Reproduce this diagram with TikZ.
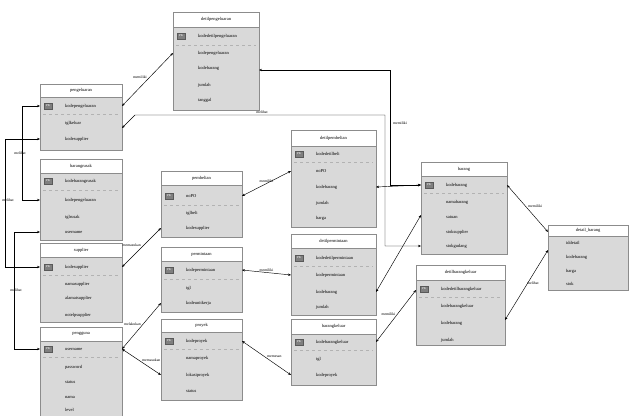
\documentclass[tikz,border=0pt]{standalone}
\usepackage{fontspec}
\setmainfont{Liberation Serif}
\usetikzlibrary{arrows.meta}
\definecolor{bodyc}{HTML}{D9D9D9}
\definecolor{edgec}{HTML}{8C8C8C}
\definecolor{pkc}{HTML}{7F7F7F}
\tikzset{
  bodybox/.style={draw=edgec, fill=bodyc, line width=0.5pt, inner sep=0pt, outer sep=0pt},
  headbox/.style={draw=edgec, fill=white, line width=0.5pt, inner sep=0pt, outer sep=0pt, font=\fontsize{4.5}{5}\selectfont},
  fieldtxt/.style={anchor=west, inner sep=0pt, font=\fontsize{4.5}{5}\selectfont},
  pkbadge/.style={draw=pkc!70!black, fill=pkc, text=white, minimum width=7.5pt, minimum height=6.5pt, inner sep=0pt, font=\fontsize{3}{3}\selectfont},
  sepline/.style={draw=gray!60, dashed, line width=0.4pt},
  rel/.style={draw=black, line width=0.45pt, {Stealth[length=3pt,width=2.4pt]}-{Stealth[length=3pt,width=2.4pt]}},
  lbl/.style={inner sep=0.5pt, font=\fontsize{3.8}{4}\selectfont}
}
% id, left, top, right, bottom, headerbottom, title
\newcommand\erbox[7]{%
  \pgfmathsetmacro\ebw{#4-#2}\pgfmathsetmacro\ebh{#5-#3}\pgfmathsetmacro\ebhh{#6-#3}%
  \node[bodybox, minimum width=\ebw pt, minimum height=\ebh pt] (#1) at ({(#2+#4)/2},{(#3+#5)/2}) {};
  \node[headbox, minimum width=\ebw pt, minimum height=\ebhh pt] (#1-h) at ({(#2+#4)/2},{(#3+#6)/2}) {#7};
}
% id, left, right, y, text, separator y  (primary key row)
\newcommand\pkrow[6]{%
  \node[pkbadge] (#1-pk) at ({#2+8},#4) {PK};
  \node[fieldtxt] (#1-f0) at ({#2+25},#4) {#5};
  \draw[sepline] ({#2+3},#6) -- ({#3-3},#6);
}
% id, left, y, text
\newcommand\fld[4]{\node[fieldtxt] (#1) at ({#2+25},#3) {#4};}
\begin{document}
\begin{tikzpicture}[x=1pt,y=-1pt]
\useasboundingbox (0,0) rectangle (636,415);
\fill[white] (0,0) rectangle (636,415);

% detilpengeluaran
\erbox{dpg}{173}{12}{259}{110}{27}{detilpengeluaran}
\pkrow{dpg}{173}{259}{36}{kodedetilpengeluaran}{45}
\fld{dpg-f1}{173}{53}{kodepengeluaran}
\fld{dpg-f2}{173}{68}{kodebarang}
\fld{dpg-f3}{173}{85}{jumlah}
\fld{dpg-f4}{173}{100}{tanggal}

% pengeluaran
\erbox{pgl}{40}{84}{122}{150}{97}{pengeluaran}
\pkrow{pgl}{40}{122}{106}{kodepengeluaran}{114}
\fld{pgl-f1}{40}{123}{tglkeluar}
\fld{pgl-f2}{40}{139}{kodesupplier}

% barangrusak
\erbox{brs}{40}{159}{122}{240}{173}{barangrusak}
\pkrow{brs}{40}{122}{181}{kodebarangrusak}{190}
\fld{brs-f1}{40}{200}{kodepengeluaran}
\fld{brs-f2}{40}{217}{tglrusak}
\fld{brs-f3}{40}{232}{username}

% supplier
\erbox{sup}{40}{243}{122}{322}{257}{supplier}
\pkrow{sup}{40}{122}{267}{kodesupplier}{275}
\fld{sup-f1}{40}{284}{namasupplier}
\fld{sup-f2}{40}{298}{alamatsupplier}
\fld{sup-f3}{40}{315}{notelpsupplier}

% pengguna
\erbox{pgn}{40}{327}{122}{425}{341}{pengguna}
\pkrow{pgn}{40}{122}{349}{username}{357}
\fld{pgn-f1}{40}{367}{password}
\fld{pgn-f2}{40}{382}{status}
\fld{pgn-f3}{40}{397}{nama}
\fld{pgn-f4}{40}{410}{level}

% pembelian
\erbox{pbl}{161}{171}{242}{237}{185}{pembelian}
\pkrow{pbl}{161}{242}{196}{noPO}{205}
\fld{pbl-f1}{161}{213}{tglbeli}
\fld{pbl-f2}{161}{228}{kodesupplier}

% permintaan
\erbox{pmt}{161}{247}{242}{312}{261}{permintaan}
\pkrow{pmt}{161}{242}{270}{kodepermintaan}{279}
\fld{pmt-f1}{161}{288}{tgl}
\fld{pmt-f2}{161}{303}{kodeunitkerja}

% proyek
\erbox{pry}{161}{319}{242}{400}{332}{proyek}
\pkrow{pry}{161}{242}{341}{kodeproyek}{349}
\fld{pry-f1}{161}{358}{namaproyek}
\fld{pry-f2}{161}{375}{lokasiproyek}
\fld{pry-f3}{161}{391}{status}

% detilpembelian
\erbox{dpb}{291}{130}{376}{227}{146}{detilpembelian}
\pkrow{dpb}{291}{376}{154}{kodedetilbeli}{162}
\fld{dpb-f1}{291}{171}{noPO}
\fld{dpb-f2}{291}{187}{kodebarang}
\fld{dpb-f3}{291}{203}{jumlah}
\fld{dpb-f4}{291}{218}{harga}

% detilpermintaan
\erbox{dpm}{291}{234}{376}{315}{248}{detilpermintaan}
\pkrow{dpm}{291}{376}{258}{kodedetilpermintaan}{266}
\fld{dpm-f1}{291}{275}{kodepermintaan}
\fld{dpm-f2}{291}{292}{kodebarang}
\fld{dpm-f3}{291}{307}{jumlah}

% barangkeluar
\erbox{bkl}{291}{319}{376}{385}{334}{barangkeluar}
\pkrow{bkl}{291}{376}{342}{kodebarangkeluar}{350}
\fld{bkl-f1}{291}{359}{tgl}
\fld{bkl-f2}{291}{375}{kodeproyek}

% barang
\erbox{brg}{421}{162}{507}{254}{176}{barang}
\pkrow{brg}{421}{507}{185}{kodebarang}{193}
\fld{brg-f1}{421}{202}{namabarang}
\fld{brg-f2}{421}{217}{satuan}
\fld{brg-f3}{421}{232}{stoksupplier}
\fld{brg-f4}{421}{246}{stokgudang}

% detilbarangkeluar
\erbox{dbk}{416}{265}{505}{345}{280}{detilbarangkeluar}
\pkrow{dbk}{416}{505}{289}{kodedetilbarangkeluar}{297}
\fld{dbk-f1}{416}{306}{kodebarangkeluar}
\fld{dbk-f2}{416}{323}{kodebarang}
\fld{dbk-f3}{416}{340}{jumlah}

% detail_barang
\erbox{dbr}{548}{225}{628}{290}{236}{detail\_barang}
\fld{dbr-f0}{541}{243}{iddetail}
\fld{dbr-f1}{541}{257}{kodebarang}
\fld{dbr-f2}{541}{271}{harga}
\fld{dbr-f3}{541}{284}{stok}

% connectors
\coordinate (c1a) at (122,106); \coordinate (c1b) at (173,53);
\draw[rel] (c1a) -- (c1b) node[midway, lbl, above left=0pt] {memiliki};
\coordinate (c2a) at (259,70); \coordinate (c2b) at (421,185);
\draw[rel] (c2a) -- (390,70) -- (390,185) -- (c2b);
\node[lbl] (l2) at (400,123) {memiliki};
\coordinate (c3a) at (122,128); \coordinate (c3b) at (421,246);
\draw[rel] (c3a) -- (135,115) -- (385,115) -- (385,246) -- (c3b);
\node[lbl] (l3) at (262,112) {melihat};

\coordinate (c4a) at (40,106); \coordinate (c4b) at (40,200);
\draw[rel] (c4a) -- (22,106) -- (22,200) -- (c4b);
\node[lbl] (l4) at (20,153) {melihat};
\coordinate (c5a) at (40,139); \coordinate (c5b) at (40,267);
\draw[rel] (c5a) -- (5,139) -- (5,267) -- (c5b);
\node[lbl] (l5) at (8,200) {melihat};
\coordinate (c6a) at (40,232); \coordinate (c6b) at (40,349);
\draw[rel] (c6a) -- (14,232) -- (14,349) -- (c6b);
\node[lbl] (l6) at (16,290) {melihat};

\coordinate (c7a) at (122,267); \coordinate (c7b) at (161,228);
\draw[rel] (c7a) -- (c7b) node[midway, lbl, above left=0pt] {memasukan};
\coordinate (c8a) at (122,349); \coordinate (c8b) at (161,303);
\draw[rel] (c8a) -- (c8b) node[midway, lbl, above left=0pt] {melakukan};
\coordinate (c9b) at (161,375);
\draw[rel] (c8a) -- (c9b) node[midway, lbl, above right=0pt] {memasukan};
\coordinate (c10a) at (242,196); \coordinate (c10b) at (291,171);
\draw[rel] (c10a) -- (c10b) node[midway, lbl, above=0pt] {memiliki};
\coordinate (c11a) at (242,270); \coordinate (c11b) at (291,275);
\draw[rel] (c11a) -- (c11b) node[midway, lbl, above=0pt] {memiliki};
\coordinate (c12a) at (242,341); \coordinate (c12b) at (291,375);
\draw[rel] (c12a) -- (c12b) node[midway, lbl, above right=0pt] {memesan};
\coordinate (c13a) at (376,187); \coordinate (c13b) at (421,185);
\draw[rel] (c13a) -- (c13b);
\coordinate (c14a) at (376,292); \coordinate (c14b) at (421,215);
\draw[rel] (c14a) -- (c14b);
\coordinate (c15a) at (376,342); \coordinate (c15b) at (416,290);
\draw[rel] (c15a) -- (c15b) node[midway, lbl, above left=0pt] {memiliki};
\coordinate (c16a) at (507,185); \coordinate (c16b) at (548,232);
\draw[rel] (c16a) -- (c16b) node[midway, lbl, above right=0pt] {memiliki};
\coordinate (c17a) at (505,320); \coordinate (c17b) at (548,250);
\draw[rel] (c17a) -- (c17b) node[midway, lbl, above right=0pt] {melihat};
\end{tikzpicture}
\end{document}
